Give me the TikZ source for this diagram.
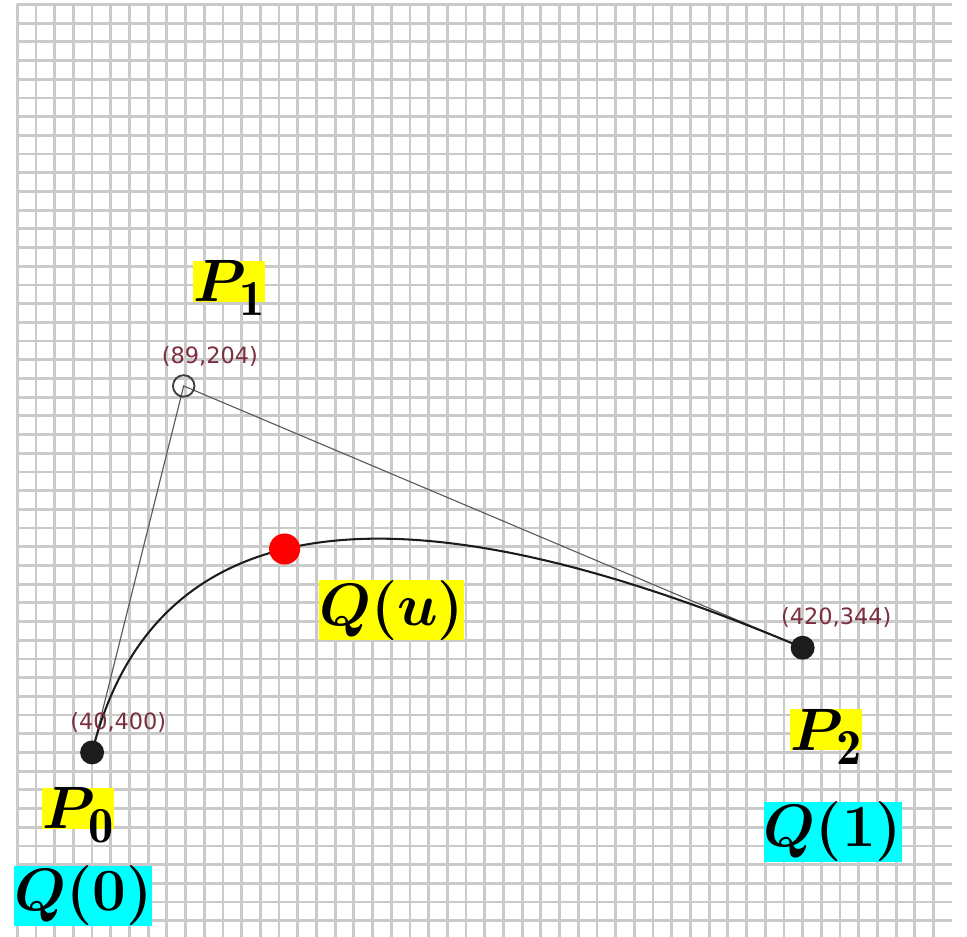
\RequirePackage{fix-cm}
\documentclass[tikz,border=0pt]{standalone}
\usepackage{fontspec}
\usepackage{bm}
\usetikzlibrary{calc,positioning}
\newfontfamily\coordfont{DejaVu Sans}
\DeclareMathSizes{32}{32}{27}{22}
\definecolor{gridgray}{HTML}{CACACA}
\definecolor{hilite}{HTML}{FFFF00}
\definecolor{aqua}{HTML}{00FFFF}
\definecolor{wine}{HTML}{7A2E3E}
\definecolor{inkdark}{HTML}{1C1C1C}
\definecolor{polygray}{HTML}{5A5A5A}
\newcommand\lowsub[1]{\mkern-2mu\smash{\lower7.5pt\hbox{$\scriptstyle\mathbf{#1}$}}}
\tikzset{
  gridline/.style={draw=gridgray, line width=1.5pt},
  ctrlline/.style={draw=polygray, line width=0.6pt},
  curveline/.style={draw=inkdark, line width=1.1pt},
  ctrlpt/.style={circle, fill=inkdark, minimum size=12.8pt, inner sep=0pt},
  openpt/.style={circle, draw=inkdark!85, line width=1pt,
    minimum size=11.5pt, inner sep=0pt},
  reddot/.style={circle, fill=red, minimum size=16.6pt, inner sep=0pt},
  coordlbl/.style={font=\coordfont\fontsize{12}{14}\selectfont,
    text=wine, inner sep=0pt},
  biglbl/.style={fill=#1, inner sep=0pt, font=\fontsize{32}{36}\selectfont},
  biglbl/.default=hilite,
}
\begin{document}
\begin{tikzpicture}[x=1pt, y=-1pt]
  \useasboundingbox (-9.25,-2.4) rectangle (507.9,498.7);
  % background grid
  \foreach \k in {0,10,...,490} {
    \draw[gridline] (0,\k) -- (500,\k);
    \draw[gridline] (\k,0) -- (\k,498.7);
  }
  \coordinate (P0) at (40,400);
  \coordinate (P1) at (89,204);
  \coordinate (P2) at (420,344);
  % control polygon and curve
  \draw[ctrlline] (P0) -- (P1) -- (P2);
  \draw[curveline] (P0) .. controls ($(P0)!2/3!(P1)$) and ($(P2)!2/3!(P1)$) .. (P2)
    node[reddot, pos=0.455] (q) {};
  \node[ctrlpt] (p0) at (P0) {};
  \node[openpt] (p1) at (P1) {};
  \node[ctrlpt] (p2) at (P2) {};
  \node[coordlbl] (c0) at ([shift={(14,-16)}]p0.center) {(40,400)};
  \node[coordlbl] (c1) at ([shift={(14,-15.5)}]p1.center) {(89,204)};
  \node[coordlbl] (c2) at ([shift={(18,-16)}]p2.center) {(420,344)};
  % labels
  \node[biglbl, anchor=base west] (lblP1) at ([shift={(5,-45)}]p1.center)
    {$\bm{P}\lowsub{1}$};
  \node[biglbl, anchor=base west] (lblP0) at ([shift={(-26.8,40.9)}]p0.center)
    {$\bm{P}\lowsub{0}$};
  \node[biglbl, anchor=base west] (lblP2) at ([shift={(-6.8,54.7)}]p2.center)
    {$\bm{P}\lowsub{2}$};
  \node[biglbl] (lblQu) at ([shift={(57.2,32.7)}]q.center) {$\bm{Q(u)}$};
  \node[biglbl=aqua] (lblQ0) at (35.4,476.7) {$\bm{Q(0)}$};
  \node[biglbl=aqua] (lblQ1) at (436.2,442.5) {$\bm{Q(1)}$};
\end{tikzpicture}
\end{document}
